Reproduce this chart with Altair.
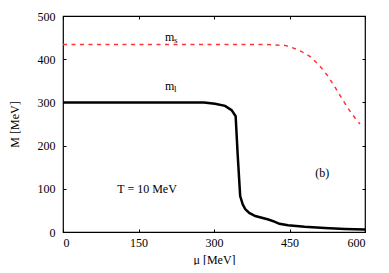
import altair as alt
import pandas as pd

mu_l = [0, 100, 200, 280, 302, 322, 335, 343, 347, 352, 357, 362, 370, 382, 395, 408, 420, 430, 447, 480, 520, 560, 600]
M_l = [300, 300, 300, 300, 297, 292, 282, 268, 180, 83, 64, 53, 44, 37, 33, 29, 24, 19, 15.5, 12, 9, 7, 6]

mu_s = [0, 100, 200, 300, 400, 441, 455, 468, 480, 491, 509, 525, 539, 553, 567, 582, 590]
M_s = [434, 434, 434, 434, 434, 432, 427, 421, 414, 406, 386, 363, 338, 311, 285, 261, 250]

x_ticks = [0, 150, 300, 450, 600]
y_ticks = [0, 100, 200, 300, 400, 500]

labels_main = ["m", "m", "T = 10 MeV", "(b)"]
labels_mu = [212, 212, 167, 515]
labels_M = [452, 339, 100, 137]
sub_text = ["s", "l"]
sub_mu = [224, 223]
sub_M = [445, 332]

FONT = "Liberation Serif"

df_l = pd.DataFrame({"mu": mu_l, "M": M_l})
df_s = pd.DataFrame({"mu": mu_s, "M": M_s})
df_lab = pd.DataFrame({"mu": labels_mu, "M": labels_M, "t": labels_main})
df_sub = pd.DataFrame({"mu": sub_mu, "M": sub_M, "t": sub_text})

xs = alt.Scale(domain=[0, 600], nice=False)
ys = alt.Scale(domain=[0, 500], nice=False)

ax_style = dict(labelFont=FONT, titleFont=FONT, labelFontSize=12, titleFontSize=12,
                titleFontWeight="normal", labelColor="black", titleColor="black",
                tickColor="black", tickWidth=1, domain=False, grid=False)

x_bottom = alt.X("mu:Q", scale=xs, title="μ [MeV]",
                 axis=alt.Axis(values=x_ticks, orient="bottom", offset=-3, tickSize=3,
                               labelPadding=5, titlePadding=6, **ax_style))
y_left = alt.Y("M:Q", scale=ys, title="M [MeV]",
               axis=alt.Axis(values=y_ticks, orient="left", offset=-3, tickSize=3,
                             labelPadding=8, titlePadding=16, **ax_style))

x_top = alt.X("mu:Q", scale=xs, title=None,
              axis=alt.Axis(values=x_ticks, orient="top", offset=-3, tickSize=3, labels=False,
                            **ax_style))
y_right = alt.Y("M:Q", scale=ys, title=None,
                axis=alt.Axis(values=y_ticks, orient="right", offset=-3, tickSize=3, labels=False,
                              **ax_style))

line_l = alt.Chart(df_l).mark_line(color="black", strokeWidth=2.5).encode(x=x_bottom, y=y_left)
line_s = alt.Chart(df_s).mark_line(color="#ff3333", strokeWidth=1.5, strokeDash=[4, 4.5]).encode(x=x_top, y=y_right)

text_main = alt.Chart(df_lab).mark_text(font=FONT, fontSize=12, color="black").encode(
    x=alt.X("mu:Q", scale=xs, axis=None), y=alt.Y("M:Q", scale=ys, axis=None), text="t:N")
text_sub = alt.Chart(df_sub).mark_text(font=FONT, fontSize=9, color="black").encode(
    x=alt.X("mu:Q", scale=xs, axis=None), y=alt.Y("M:Q", scale=ys, axis=None), text="t:N")

chart = alt.layer(line_l, line_s, text_main, text_sub).resolve_axis(
    x="independent", y="independent"
).properties(
    width=302, height=216,
    padding={"left": 0, "top": 2, "right": 4, "bottom": 0},
).configure(font=FONT).configure_view(stroke="black", strokeWidth=1.2)

chart.save("out.html", embed_options={"renderer": "svg", "actions": False})
